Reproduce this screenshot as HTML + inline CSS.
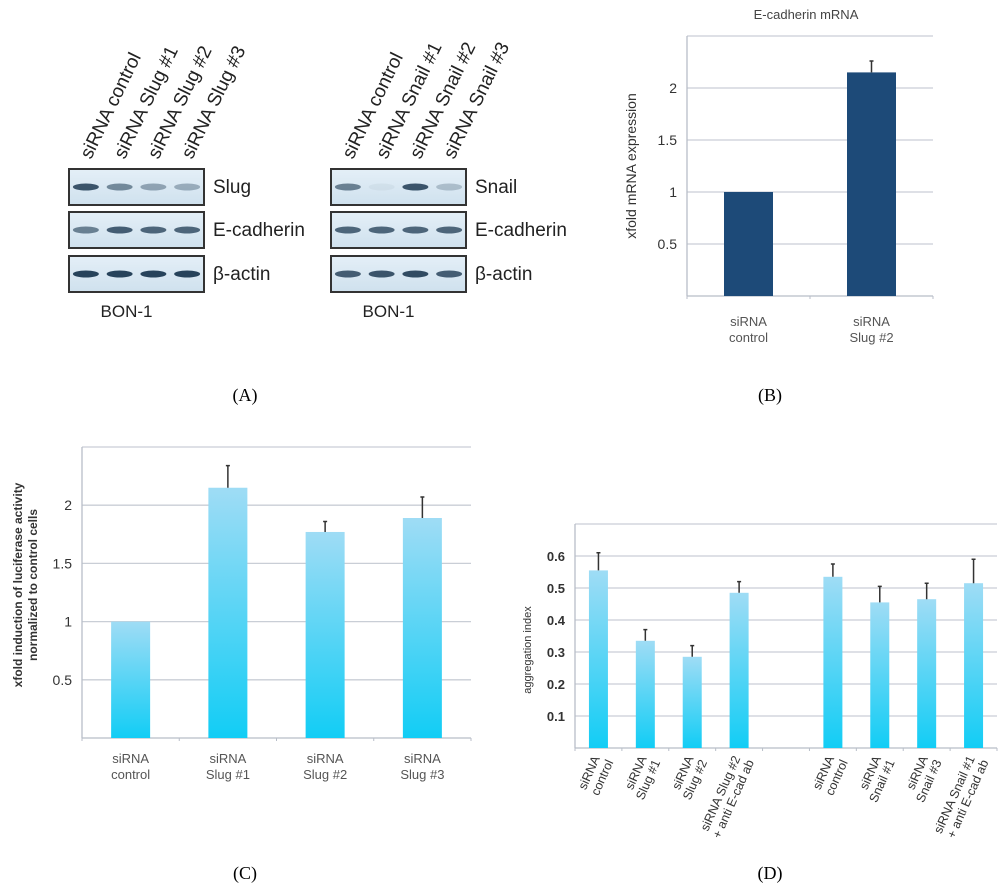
<!DOCTYPE html>
<html><head><meta charset="utf-8">
<style>
body{margin:0;background:#fff;}
svg{display:block;font-family:"Liberation Sans",sans-serif;}
</style></head>
<body>
<svg id="fig" width="1000" height="889" viewBox="0 0 1000 889">
<defs>
<linearGradient id="cy" x1="0" y1="0" x2="0" y2="1">
<stop offset="0" stop-color="#9fdcf5"/><stop offset="1" stop-color="#12cdf5"/>
</linearGradient>
<linearGradient id="blot" x1="0" y1="0" x2="0" y2="1">
<stop offset="0" stop-color="#e4eff7"/><stop offset="1" stop-color="#cfe1ee"/>
</linearGradient>
</defs>
<g id="pa"></g>
<g id="pb"></g>
<g id="pc"></g>
<g id="pd"></g>
<text x="245" y="401" font-family="Liberation Serif" font-size="18" text-anchor="middle">(A)</text>
<text x="770" y="401" font-family="Liberation Serif" font-size="18" text-anchor="middle">(B)</text>
<text x="245" y="879" font-family="Liberation Serif" font-size="18" text-anchor="middle">(C)</text>
<text x="770" y="879" font-family="Liberation Serif" font-size="18" text-anchor="middle">(D)</text>
</svg>
<script>
const NS='http://www.w3.org/2000/svg';
function mk(p,t,a,txt){const e=document.createElementNS(NS,t);for(const k in a)e.setAttribute(k,a[k]);if(txt!==undefined)e.textContent=txt;p.appendChild(e);return e;}

// Panel B data
const bCats=[['siRNA','control'],['siRNA','Slug #2']];
const bVals=[1.0,2.15];
const bErr=[0,0.11];
const bTicks=[0.5,1,1.5,2];
// Panel C data
const cCats=[['siRNA','control'],['siRNA','Slug #1'],['siRNA','Slug #2'],['siRNA','Slug #3']];
const cVals=[1.0,2.15,1.77,1.89];
const cErr=[0,0.19,0.09,0.18];
const cTicks=[0.5,1,1.5,2];
// Panel D data
const dCats=[['siRNA','control'],['siRNA','Slug #1'],['siRNA','Slug #2'],['siRNA Slug #2','+ anti E-cad ab'],null,['siRNA','control'],['siRNA','Snail #1'],['siRNA','Snail #3'],['siRNA Snail #1','+ anti E-cad ab']];
const dVals=[0.555,0.335,0.285,0.485,null,0.535,0.455,0.465,0.515];
const dErr=[0.055,0.035,0.035,0.035,null,0.04,0.05,0.05,0.075];
const dTicks=[0.1,0.2,0.3,0.4,0.5,0.6];

function chart(g,o){
  const y=v=>o.y0-(v/o.max)*(o.y0-o.yTop);
  const n=o.vals.length, sw=(o.x1-o.x0)/n;
  const gl=[...o.ticks,o.max];
  gl.forEach((t,i)=>{
    const l=mk(g,'line',{x1:o.x0,x2:o.x1,y1:y(t),y2:y(t),stroke:'#c9ced6','stroke-width':1.3});
    
  });
  o.ticks.forEach(t=>{
    const tx=mk(g,'text',{x:o.x0-10,y:y(t)+5,'font-size':o.fs,'text-anchor':'end',fill:'#333','font-weight':o.tw||'normal'},String(t));
    
  });
  const ax=mk(g,'line',{x1:o.x0,x2:o.x0,y1:o.yTop,y2:o.y0,stroke:'#b8bec8','stroke-width':1.3});
  
  const bx=mk(g,'line',{x1:o.x0,x2:o.x1,y1:o.y0,y2:o.y0,stroke:'#b8bec8','stroke-width':1.3});
  
  for(let i=0;i<=n;i++){const tk=mk(g,'line',{x1:o.x0+i*sw,x2:o.x0+i*sw,y1:o.y0,y2:o.y0+3,stroke:'#b8bec8'});}
  o.vals.forEach((v,i)=>{
    if(v===null)return;
    const cx=o.x0+sw*(i+0.5);
    const r=mk(g,'rect',{x:cx-o.bw/2,y:y(v),width:o.bw,height:o.y0-y(v),fill:o.fill});
    
    if(o.err[i]>0){
      const e=mk(g,'path',{d:`M${cx} ${y(v)}V${y(v+o.err[i])}M${cx-2} ${y(v+o.err[i])}H${cx+2}`,stroke:'#333','stroke-width':1.5,fill:'none'});
      
    }
    const c=o.cats[i];
    if(o.rot){
      const lx=cx+6,ly=o.y0+10;
      const t=mk(g,'text',{transform:`translate(${lx},${ly}) rotate(-66)`,'font-size':o.cfs,'text-anchor':'end',fill:'#333'});
      
      mk(t,'tspan',{x:-2,y:-4},c[0]);mk(t,'tspan',{x:0,y:10},c[1]);
    }else{
      const t=mk(g,'text',{x:cx,y:o.y0+o.ly,'font-size':o.cfs,'text-anchor':'middle',fill:'#555'});
      
      mk(t,'tspan',{x:cx,dy:0},c[0]);mk(t,'tspan',{x:cx,dy:o.cfs+3},c[1]);
    }
  });
}

const pb=document.getElementById('pb');
const bt=mk(pb,'text',{x:806,y:19,'font-size':13,'text-anchor':'middle',fill:'#444'},'E-cadherin mRNA');

chart(pb,{x0:687,x1:933,y0:296,yTop:36,max:2.5,ticks:bTicks,vals:bVals,err:bErr,cats:bCats,bw:49,fill:'#1d4a78',fs:14,cfs:13,ly:30});
const byt=mk(pb,'text',{transform:'translate(636,166) rotate(-90)','font-size':14,'text-anchor':'middle',fill:'#333'},'xfold mRNA expression');


const pc=document.getElementById('pc');
chart(pc,{x0:82,x1:471,y0:738,yTop:447,max:2.5,ticks:cTicks,vals:cVals,err:cErr,cats:cCats,bw:39,fill:'url(#cy)',fs:14,cfs:13,ly:25});
const cyt=mk(pc,'text',{transform:'translate(22,585) rotate(-90)','font-size':12,'text-anchor':'middle',fill:'#333','font-weight':'bold'});

mk(cyt,'tspan',{x:0,y:0},'xfold induction of luciferase activity');mk(cyt,'tspan',{x:0,y:15},'normalized to control cells');

const pd=document.getElementById('pd');
chart(pd,{x0:575,x1:997,y0:748,yTop:524,max:0.7,ticks:dTicks,vals:dVals,err:dErr,cats:dCats,bw:19,fill:'url(#cy)',fs:13,tw:'bold',cfs:12.5,rot:true});
const dyt=mk(pd,'text',{transform:'translate(531,650) rotate(-90)','font-size':11,'text-anchor':'middle',fill:'#333'},'aggregation index');


// Panel A blots
const pa=document.getElementById('pa');
const blots=[
 {x:69,lanes:['siRNA control','siRNA Slug #1','siRNA Slug #2','siRNA Slug #3'],rows:['Slug','E-cadherin','β-actin'],
  int:[[0.85,0.55,0.4,0.35],[0.6,0.8,0.75,0.75],[0.95,0.95,0.95,0.95]]},
 {x:331,lanes:['siRNA control','siRNA Snail #1','siRNA Snail #2','siRNA Snail #3'],rows:['Snail','E-cadherin','β-actin'],
  int:[[0.6,0.05,0.85,0.25],[0.75,0.75,0.75,0.75],[0.8,0.85,0.9,0.8]]}
];
const rowY=[169,212,256];
blots.forEach((b,bi)=>{
  const w=135,lw=w/4;
  b.lanes.forEach((l,i)=>{
    const cx=b.x+lw*(i+0.5);
    const t=mk(pa,'text',{transform:`translate(${cx+5},160) rotate(-64)`,'font-size':19,fill:'#222'},l);
    
  });
  b.rows.forEach((r,ri)=>{
    const ry=rowY[ri];
    const box=mk(pa,'rect',{x:b.x,y:ry,width:w,height:36,fill:'url(#blot)',stroke:'#333','stroke-width':2});
    
    b.int[ri].forEach((v,i)=>{
      const cx=b.x+lw*(i+0.5);
      const e=mk(pa,'ellipse',{cx:cx,cy:ry+18,rx:13,ry:3.5,fill:'#1e3a52',opacity:v});
      
    });
    const t=mk(pa,'text',{x:b.x+w+9,y:ry+24,'font-size':19,fill:'#222'},r);
    
  });
  const c=mk(pa,'text',{x:b.x+w/2-10,y:317,'font-size':17,'text-anchor':'middle',fill:'#222'},'BON-1');
  
});
</script>
</body></html>
